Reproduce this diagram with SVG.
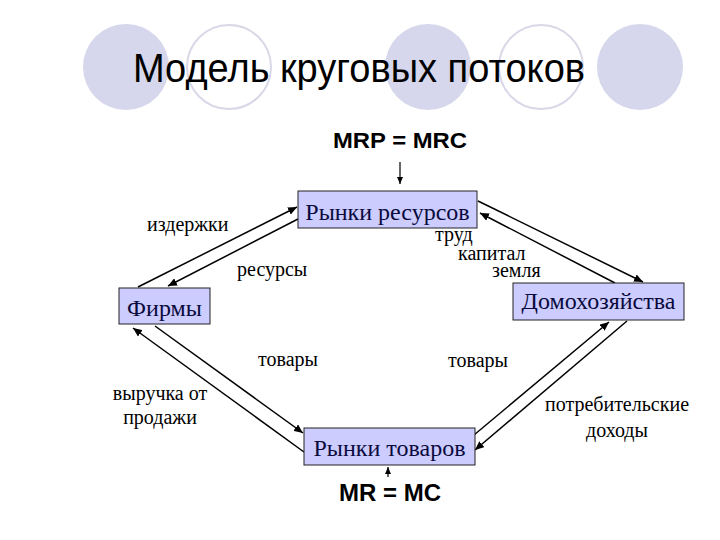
<svg xmlns="http://www.w3.org/2000/svg" width="720" height="540" viewBox="0 0 720 540">
<defs>
<style>
.deco-fill{fill:#D6D6EC;stroke:none}
.deco-ring{fill:none;stroke:#D8D8E8;stroke-width:2}
.title{font-family:"Liberation Sans",Arial,sans-serif;font-size:40px;fill:#000}
.eq{font-family:"Liberation Sans",Arial,sans-serif;font-weight:bold;fill:#000}
.box{fill:#CCCCFF;stroke:#222;stroke-width:1}
.btxt{font-family:"Liberation Serif","DejaVu Serif","Times New Roman",serif;font-size:24px;fill:#0A0A3C;text-anchor:middle}
.lbl{font-family:"Liberation Serif","DejaVu Serif","Times New Roman",serif;font-size:20px;fill:#000}
.conn line{stroke:#000;stroke-width:1.5;marker-end:url(#ah)}
</style>
<marker id="ah" markerWidth="10" markerHeight="8" refX="9" refY="4" orient="auto" markerUnits="userSpaceOnUse">
<path d="M0,0 L9,4 L0,8 Z" fill="#000"/>
</marker>
<marker id="ahs" markerWidth="8" markerHeight="6" refX="7" refY="3" orient="auto" markerUnits="userSpaceOnUse">
<path d="M0,0 L7,3 L0,6 Z" fill="#000"/>
</marker>
</defs>
<rect width="720" height="540" fill="#fff"/>
<g id="decor">
<circle class="deco-fill" cx="126" cy="67" r="43"/>
<circle class="deco-ring" cx="229" cy="67" r="42"/>
<circle class="deco-fill" cx="428" cy="67" r="43"/>
<circle class="deco-ring" cx="541" cy="67" r="42"/>
<circle class="deco-fill" cx="640" cy="67" r="43"/>
</g>
<text class="title" x="133" y="82" textLength="452" lengthAdjust="spacingAndGlyphs">Модель круговых потоков</text>

<g id="connectors" class="conn">
<line x1="138" y1="287" x2="297" y2="207"/>
<line x1="298" y1="219" x2="168" y2="286"/>
<line x1="478" y1="201" x2="643" y2="282"/>
<line x1="615" y1="283" x2="480" y2="213"/>
<line x1="155" y1="326" x2="303" y2="433"/>
<line x1="304" y1="452" x2="133" y2="328"/>
<line x1="474" y1="435" x2="609" y2="322"/>
<line x1="627" y1="321" x2="475" y2="450"/>
<line x1="400" y1="162" x2="400" y2="184" style="stroke-width:1.2;marker-end:url(#ahs)"/>
<line x1="388" y1="477" x2="388" y2="467" style="stroke-width:1.2;marker-end:url(#ahs)"/>
</g>

<g id="mrp"><text class="eq" x="333" y="148" font-size="22" textLength="134" lengthAdjust="spacingAndGlyphs">MRP = MRC</text></g>
<g id="mr"><text class="eq" x="339" y="501" font-size="24" textLength="102" lengthAdjust="spacingAndGlyphs">MR = MC</text></g>

<g id="resource-markets">
<rect class="box" x="298" y="191" width="179" height="37"/>
<text class="btxt" x="387.5" y="220">Рынки ресурсов</text>
</g>
<g id="firms">
<rect class="box" x="119" y="288" width="91" height="36"/>
<text class="btxt" x="164.5" y="316">Фирмы</text>
</g>
<g id="households">
<rect class="box" x="513" y="283" width="171" height="37"/>
<text class="btxt" x="598.5" y="309">Домохозяйства</text>
</g>
<g id="goods-markets">
<rect class="box" x="304" y="428" width="171" height="37"/>
<text class="btxt" x="389.5" y="456">Рынки товаров</text>
</g>

<g id="labels">
<text class="lbl" x="147" y="231">издержки</text>
<text class="lbl" x="237" y="276">ресурсы</text>
<text class="lbl" x="435" y="241">труд</text>
<text class="lbl" x="458" y="260">капитал</text>
<text class="lbl" x="492" y="277">земля</text>
<text class="lbl" x="258" y="366">товары</text>
<text class="lbl" x="448" y="367">товары</text>
<text class="lbl" x="160" y="400" text-anchor="middle">выручка от</text>
<text class="lbl" x="160" y="424" text-anchor="middle">продажи</text>
<text class="lbl" x="617" y="411" text-anchor="middle">потребительские</text>
<text class="lbl" x="617" y="437" text-anchor="middle">доходы</text>
</g>
</svg>
